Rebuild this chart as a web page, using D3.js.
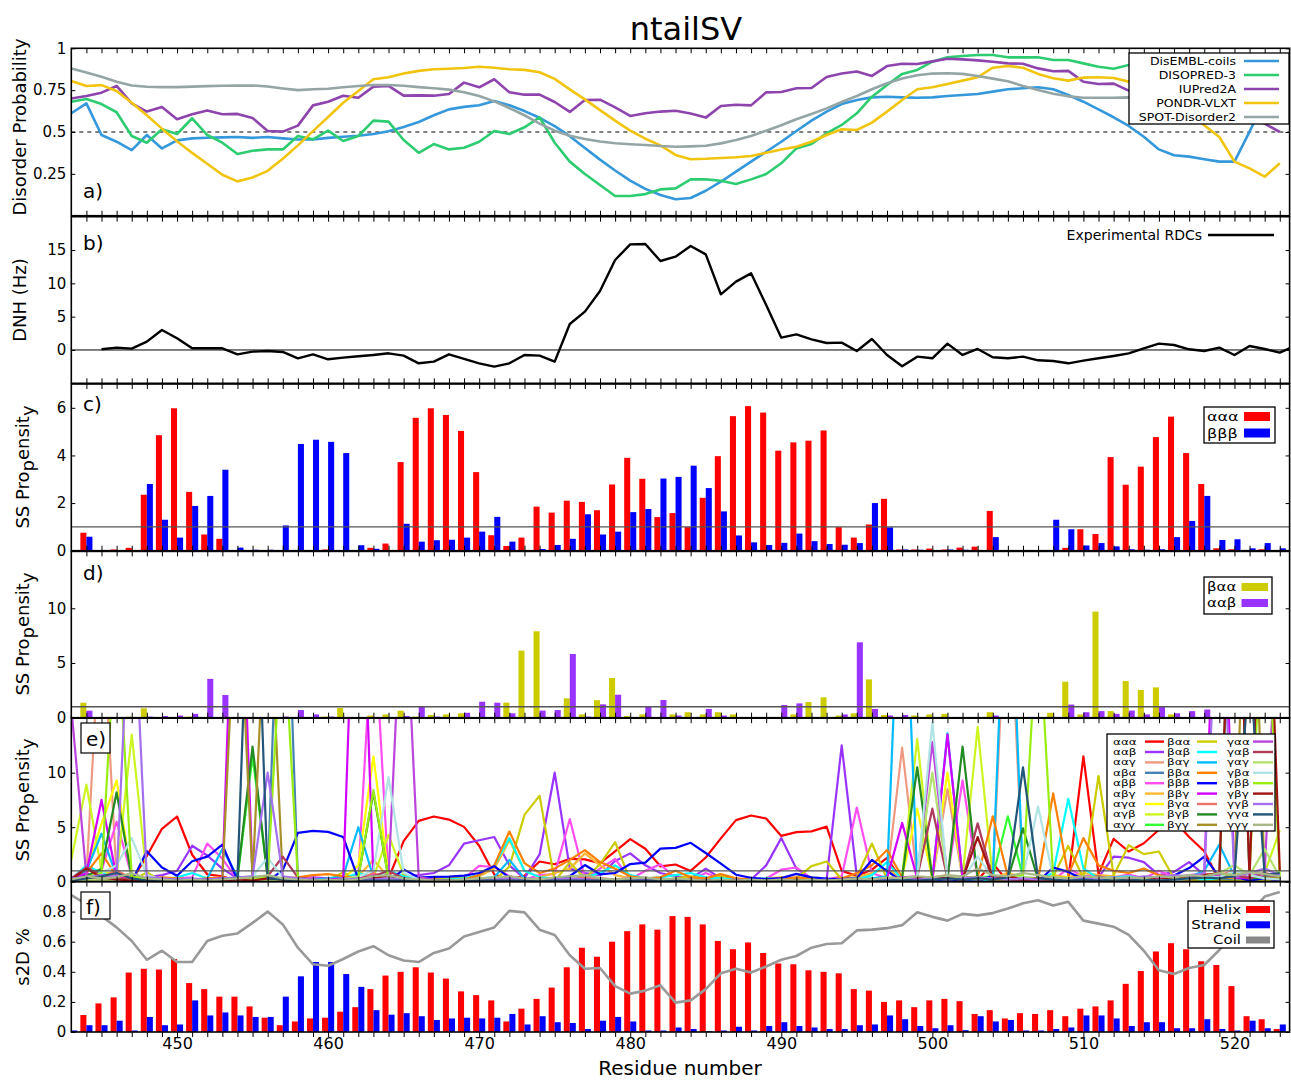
<!DOCTYPE html>
<html><head><meta charset="utf-8">
<script src="https://cdn.jsdelivr.net/npm/d3@7"></script>
<style>body{margin:0;background:#fff}svg{display:block}</style>
</head><body>
<svg id="chart" width="1291" height="1080"></svg>
<script>
// ---------------- DATA ----------------
const residues = [443,444,445,446,447,448,449,450,451,452,
  453,454,455,456,457,458,459,460,461,462,
  463,464,465,466,467,468,469,470,471,472,
  473,474,475,476,477,478,479,480,481,482,
  483,484,485,486,487,488,489,490,491,492,
  493,494,495,496,497,498,499,500,501,502,
  503,504,505,506,507,508,509,510,511,512,
  513,514,515,516,517,518,519,520,521,522,
  523];
const xTickLabels = [450,460,470,480,490,500,510,520];

// a) disorder predictors
const disemblCoils = [0.612,0.671,0.482,0.442,0.392,0.482,0.402,0.45,0.462,0.466,
  0.468,0.47,0.465,0.47,0.462,0.455,0.455,0.465,0.472,0.478,
  0.488,0.505,0.53,0.56,0.6,0.635,0.65,0.66,0.685,0.66,
  0.625,0.585,0.535,0.475,0.405,0.335,0.27,0.21,0.16,0.124,
  0.098,0.106,0.149,0.203,0.263,0.323,0.382,0.442,0.506,0.568,
  0.622,0.667,0.691,0.707,0.711,0.707,0.705,0.707,0.715,0.721,
  0.727,0.741,0.755,0.761,0.767,0.755,0.721,0.681,0.635,0.588,
  0.536,0.472,0.396,0.361,0.353,0.337,0.323,0.323,0.502,0.69,
  0.73];
const disopred3 = [0.681,0.697,0.667,0.618,0.476,0.436,0.516,0.488,0.582,0.482,
  0.436,0.369,0.388,0.396,0.396,0.476,0.456,0.508,0.446,0.476,
  0.568,0.562,0.452,0.376,0.428,0.396,0.406,0.442,0.506,0.488,
  0.528,0.588,0.436,0.323,0.249,0.183,0.118,0.118,0.129,0.157,
  0.163,0.217,0.217,0.209,0.189,0.217,0.249,0.313,0.402,0.428,
  0.492,0.542,0.612,0.711,0.781,0.847,0.871,0.92,0.946,0.954,
  0.96,0.96,0.946,0.946,0.946,0.93,0.93,0.91,0.89,0.878,
  0.9,0.92,0.92,0.9,0.88,0.85,0.82,0.79,0.76,0.73,
  0.7];
const iupred2a = [0.70,0.715,0.735,0.775,0.671,0.622,0.649,0.576,0.606,0.629,
  0.606,0.608,0.584,0.506,0.502,0.538,0.659,0.681,0.717,0.705,
  0.771,0.775,0.717,0.719,0.717,0.727,0.795,0.767,0.815,0.737,
  0.723,0.723,0.679,0.62,0.691,0.693,0.647,0.596,0.612,0.622,
  0.627,0.61,0.586,0.655,0.663,0.659,0.737,0.739,0.761,0.763,
  0.829,0.849,0.861,0.835,0.894,0.908,0.906,0.922,0.938,0.934,
  0.928,0.92,0.91,0.908,0.88,0.863,0.865,0.80,0.787,0.789,
  0.747,0.73,0.70,0.68,0.66,0.64,0.62,0.60,0.58,0.55,
  0.50];
const pondrVlxt = [0.805,0.775,0.78,0.745,0.675,0.60,0.52,0.445,0.375,0.31,
  0.245,0.205,0.228,0.268,0.34,0.42,0.505,0.59,0.675,0.745,
  0.815,0.827,0.85,0.865,0.875,0.878,0.882,0.89,0.884,0.875,
  0.871,0.857,0.817,0.755,0.695,0.631,0.568,0.508,0.46,0.42,
  0.363,0.337,0.34,0.345,0.349,0.357,0.376,0.396,0.412,0.442,
  0.482,0.516,0.512,0.556,0.622,0.691,0.755,0.767,0.787,0.807,
  0.827,0.884,0.894,0.884,0.847,0.821,0.807,0.825,0.827,0.823,
  0.801,0.78,0.74,0.69,0.62,0.54,0.47,0.323,0.283,0.233,
  0.313];
const spotDisorder2 = [0.88,0.855,0.83,0.80,0.778,0.77,0.768,0.768,0.771,0.774,
  0.776,0.777,0.778,0.772,0.76,0.75,0.755,0.758,0.767,0.775,
  0.781,0.781,0.776,0.768,0.761,0.753,0.738,0.715,0.683,0.643,
  0.6,0.55,0.508,0.478,0.458,0.443,0.433,0.427,0.422,0.416,
  0.412,0.414,0.418,0.432,0.452,0.476,0.508,0.54,0.576,0.608,
  0.641,0.679,0.715,0.755,0.791,0.819,0.839,0.849,0.851,0.847,
  0.835,0.819,0.803,0.775,0.751,0.729,0.713,0.705,0.705,0.705,
  0.707,0.70,0.69,0.68,0.67,0.66,0.65,0.64,0.63,0.62,
  0.61];

// b) experimental RDCs
const dnhResidues = [445,446,447,448,449,450,451,452,453,454,
  455,456,457,458,459,460,461,462,463,464,
  465,466,467,468,469,470,471,472,473,474,
  475,476,477,478,479,480,481,482,483,484,
  485,486,487,488,489,490,491,492,493,494,
  495,496,497,498,499,500,501,502,503,504,
  505,506,507,508,509,510,511,512,513,514,
  515,516,517,518,519,520,521,522,523,524];
const dnhValues = [0.1,0.35,0.2,1.25,3.0,1.75,0.25,0.25,0.25,-0.65,
  -0.25,-0.15,-0.3,-1.25,-0.65,-1.4,-1.15,-0.95,-0.75,-0.5,
  -0.85,-2.0,-1.75,-0.65,-1.35,-2.0,-2.5,-2.0,-0.75,-0.85,
  -1.75,3.9,5.75,8.85,13.5,15.85,15.9,13.35,14.0,15.6,
  14.35,8.35,10.25,11.5,6.75,1.85,2.35,1.6,1.05,1.1,
  -0.15,1.65,-0.75,-2.45,-1.0,-1.25,0.95,-0.75,0.15,-1.1,
  -1.25,-1.0,-1.55,-1.65,-2.0,-1.6,-1.25,-0.9,-0.5,0.25,
  0.95,0.75,0.1,-0.15,0.35,-0.75,0.6,0.15,-0.4,0.6];

// c) ααα / βββ propensities
const cAAA = [0,0.755,0.02,0.05,0.12,2.35,4.85,5.98,2.47,0.68,
  0.5,0.02,0.02,0.02,0.02,0.02,0.02,0.05,0.02,0.02,
  0.12,0.3,3.72,5.58,5.98,5.7,5.03,3.3,0.65,0.2,
  0.55,1.85,1.6,2.1,2.05,1.7,2.78,3.9,3.02,1.41,
  1.58,0.99,2.22,3.97,5.65,6.07,5.8,4.2,4.55,4.62,
  5.05,0.99,0.55,1.1,2.18,0.05,0.05,0.09,0.05,0.13,
  0.17,1.67,0.02,0.02,0.02,0.03,0.12,0.9,0.7,3.93,
  2.77,3.53,4.77,5.63,4.1,2.8,0.1,0.06,0.03,0.06,
  0.03];
const cBBB = [0,0.587,0.03,0.02,0.03,2.8,1.3,0.55,1.88,2.3,
  3.4,0.13,0.04,0.04,1.06,4.48,4.66,4.57,4.1,0.23,
  0.08,0.02,1.13,0.38,0.44,0.46,0.55,0.8,1.42,0.38,
  0.02,0.07,0.24,0.5,1.53,0.68,0.8,1.62,1.75,3.03,
  3.1,3.57,2.63,1.65,0.64,0.35,0.24,0.33,0.72,0.4,
  0.28,0.25,0.32,2.0,0.98,0.05,0.04,0.02,0.05,0.04,
  0.02,0.57,0.02,0.02,0.02,1.3,0.9,0.22,0.32,0.18,
  0.06,0.04,0.06,0.57,1.25,2.3,0.45,0.48,0.1,0.32,
  0.1];

// d) βαα / ααβ propensities
const dBAA = [0,1.37,0.02,0.05,0.1,0.85,0.05,0.05,0.1,0.05,
  0.05,0.05,0.05,0.05,0.05,0.05,0.05,0.1,0.88,0.05,
  0.2,0.3,0.64,0.1,0.25,0.3,0.4,0.05,0.05,1.38,
  6.13,7.9,0.05,1.77,0.3,1.6,3.63,0.15,0.3,0.05,
  0.3,0.5,0.3,0.5,0.3,0.05,0.05,0.05,0.3,1.43,
  1.86,0.2,0.4,3.5,0.25,0.05,0.2,0.3,0.35,0.05,
  0.05,0.5,0.05,0.05,0.05,0.45,3.29,0.3,9.7,0.6,
  3.35,2.53,2.77,0.3,0.05,0.05,0.05,0.05,0.05,0.05,
  0.05];
const dAAB = [0,0.64,0.05,0.05,0.05,0.1,0.15,0.2,0.35,3.55,
  2.07,0.05,0.05,0.05,0.1,0.7,0.3,0.1,0.05,0.05,
  0.05,0.05,0.15,1.07,0.1,0.05,0.45,1.46,1.37,0.4,
  0.05,0.65,0.7,5.82,0.1,1.22,2.1,0.05,1.0,1.62,
  0.2,0.05,0.8,0.2,0.05,0.05,0.05,1.16,1.31,0.05,
  0.05,0.3,6.89,0.8,0.2,0.25,0.05,0.05,0.05,0.05,
  0.05,0.2,0.05,0.05,0.05,0.05,1.2,0.5,0.6,0.35,
  0.65,0.3,1.0,0.4,0.6,0.75,0.05,0.05,0.05,0.05,
  0.05];

// e) all 27 triplet propensities
const eAAA = [0,0.755,0.02,0.05,0.12,2.35,4.85,5.98,2.47,0.68,
  0.5,0.02,0.02,0.02,0.02,0.02,0.02,0.05,0.02,0.02,
  0.12,0.3,3.72,5.58,5.98,5.7,5.03,3.3,0.65,0.2,
  0.55,1.85,1.6,2.1,2.05,1.7,2.78,3.9,3.02,1.41,
  1.58,0.99,2.22,3.97,5.65,6.07,5.8,4.2,4.55,4.62,
  5.05,0.99,0.55,1.1,2.18,0.05,0.05,0.09,0.05,0.13,
  0.17,1.67,0.02,0.02,0.02,0.03,0.12,11.5,0.7,3.93,
  2.77,3.53,4.77,5.63,4.1,2.8,0.1,0.06,0.03,0.06,
  0.03];
const eAAB = [0.3,0.8,0.2,0.3,0.2,0.4,0.6,1.0,3.3,2.4,
  1.2,0.3,0.2,0.3,0.2,0.3,0.4,0.3,0.2,0.3,
  0.5,0.3,0.4,0.6,0.8,1.5,3.5,3.8,4.1,1.5,
  0.3,2.5,10.0,1.2,0.8,0.6,1.9,2.6,1.5,0.8,
  0.5,0.3,1.2,0.3,0.2,0.2,1.5,4.0,1.2,0.3,
  0.2,12.5,0.5,0.2,0.3,0.4,0.3,0.2,0.3,0.2,
  0.3,0.2,0.3,0.2,0.3,0.4,0.3,0.5,0.4,2.3,
  2.2,1.8,0.6,0.9,1.8,0.6,0.4,0.3,0.5,0.3,
  0.4];
const eAAG = [0.2,0.5,26,0.4,0.3,0.2,0.1,0.2,0.1,0.1,
  0.2,0.1,0.1,0.2,0.1,0.1,0.1,0.2,0.1,0.2,
  0.1,0.2,0.1,0.1,0.1,0.2,0.1,0.2,0.3,0.5,
  0.2,0.1,0.3,0.2,0.6,0.3,0.2,0.1,0.2,0.1,
  0.1,0.2,0.1,0.1,0.2,0.1,0.1,0.1,0.2,0.1,
  0.1,0.2,0.1,0.3,0.4,12.3,0.3,0.2,8.5,0.3,
  0.2,0.3,30,0.2,0.3,0.2,0.1,0.3,0.2,0.1,
  0.2,0.1,0.2,0.1,0.3,0.2,0.4,0.2,0.1,0.3,
  0.2];
const eABA = [0.1,0.3,0.5,0.8,0.4,0.1,0.1,0.1,0.2,0.1,
  0.1,0.2,0.3,0.2,40,0.2,0.1,0.1,0.1,0.1,
  0.2,0.1,0.1,0.1,0.1,0.1,0.1,0.1,0.2,0.1,
  0.1,0.1,0.1,0.2,0.1,0.1,0.1,0.1,0.1,0.1,
  0.1,0.1,0.1,0.1,0.1,0.1,0.1,0.1,0.1,0.1,
  0.1,0.1,0.1,0.1,0.2,0.1,0.1,0.2,0.1,0.1,
  0.2,0.1,0.1,0.1,0.2,0.1,0.1,0.1,0.1,0.1,
  0.1,0.1,0.1,0.1,0.2,0.1,0.3,0.1,0.2,0.1,
  0.1];
const eABB = [0.2,0.3,1.0,5.5,0.5,0.2,0.2,0.3,0.4,3.5,
  2.1,0.2,0.1,0.2,0.2,0.3,0.3,0.2,0.3,0.6,
  25,0.4,0.2,0.3,0.2,0.2,0.3,1.45,1.35,0.5,
  0.2,0.6,0.7,5.75,0.3,1.2,2.1,0.2,1.0,1.6,
  0.3,0.2,0.8,0.3,0.2,0.2,0.3,1.1,1.3,0.3,
  0.2,0.5,6.8,0.8,0.3,0.2,0.3,0.2,0.4,9.3,
  0.3,0.4,0.2,0.3,0.2,0.2,1.2,0.5,0.6,0.4,
  0.65,0.3,1.0,0.4,0.6,0.75,0.4,0.6,0.3,0.5,
  0.3];
const eABG = [0.1,0.4,0.6,1.0,0.3,0.2,0.1,0.2,0.1,0.2,
  0.1,0.2,0.3,0.2,0.1,0.2,0.1,0.1,0.2,0.5,
  2.0,0.4,0.2,0.1,0.1,0.2,0.3,0.5,1.2,3.8,
  1.0,0.4,0.8,1.2,2.6,1.5,0.6,0.3,0.2,0.3,
  0.2,0.4,0.3,0.2,0.1,0.2,0.3,0.4,0.2,0.3,
  0.2,0.3,0.4,0.8,1.2,0.3,0.2,0.4,0.6,0.3,
  0.5,0.3,0.8,0.4,0.3,0.6,0.4,0.8,0.6,0.5,
  0.4,0.3,0.2,0.4,0.3,0.6,0.4,0.5,0.3,0.4,
  0.3];
const eAGA = [0.3,1.0,5.3,9.3,0.4,0.2,0.1,0.2,0.1,0.1,
  0.2,0.1,0.2,0.3,0.2,0.1,0.1,0.1,0.3,1.5,
  11.5,0.5,0.2,0.1,0.1,0.1,0.1,0.2,0.1,0.3,
  0.2,0.1,0.2,0.3,0.2,0.1,0.2,0.1,0.1,0.1,
  0.1,0.1,0.2,0.1,0.1,0.1,0.1,0.1,0.1,0.1,
  0.1,0.2,0.1,0.3,0.2,0.4,6.7,0.3,10.0,0.4,
  0.3,0.2,0.5,0.3,0.2,0.3,0.4,0.2,0.3,0.2,
  0.3,0.2,0.1,0.2,0.3,0.2,0.5,0.8,0.4,0.3,
  0.2];
const eAGB = [2.0,8.9,1.0,0.5,13.5,0.5,0.2,0.1,0.2,0.1,
  0.1,0.2,0.2,0.3,0.2,0.1,0.1,0.1,0.2,0.3,
  0.4,4.3,0.6,0.2,0.1,0.1,0.2,0.1,0.1,0.2,
  0.1,0.2,0.1,0.1,0.2,0.1,0.1,0.2,0.1,0.1,
  0.1,0.1,0.1,0.2,0.1,0.1,0.1,0.1,0.1,0.1,
  0.1,0.2,0.1,0.2,0.3,0.5,13.1,0.3,0.2,0.4,
  14.2,0.3,0.4,0.2,0.3,0.3,0.2,0.4,0.3,0.2,
  0.3,0.2,0.3,0.4,0.2,0.3,0.5,0.3,0.6,0.8,
  4.7];
const eAGG = [0.1,0.3,0.2,0.4,0.2,0.1,0.1,0.1,0.1,0.1,
  0.2,0.3,11.5,0.5,0.2,0.1,0.1,0.1,0.1,0.1,
  0.2,0.1,0.1,0.1,0.1,0.1,0.1,0.1,0.1,0.1,
  0.1,0.1,0.1,0.1,0.1,0.1,0.1,0.1,0.1,0.1,
  0.1,0.1,0.1,0.1,0.1,0.1,0.1,0.1,0.1,0.1,
  0.1,0.1,0.1,0.1,0.2,0.3,0.2,0.1,0.2,0.3,
  0.4,0.5,6.0,0.4,0.3,0.2,0.1,0.2,0.1,0.1,
  0.1,0.1,0.1,0.2,0.1,0.2,0.3,0.4,0.2,0.3,
  0.2];
const eBAB = [0.2,1.5,0.8,0.3,0.2,0.1,0.2,0.4,0.8,0.3,
  0.2,0.3,0.5,0.4,0.2,0.1,0.1,0.2,0.3,0.8,
  0.4,1.0,0.5,0.2,0.1,0.2,0.3,0.6,1.5,4.0,
  1.0,0.4,0.3,0.2,0.4,0.8,1.5,0.6,0.3,0.4,
  0.6,0.8,0.4,0.3,0.2,0.2,0.3,0.2,0.1,0.2,
  0.2,0.1,0.2,0.6,1.8,0.2,0.1,0.2,0.1,0.2,
  0.1,0.2,0.4,0.3,0.2,0.8,7.6,1.2,0.3,0.4,
  0.5,0.3,0.2,0.4,0.3,0.2,0.3,0.5,0.2,0.3,
  0.2];
const eBAG = [0.3,1.0,4.4,0.5,0.3,0.2,0.1,0.2,0.1,0.3,
  3.0,0.5,0.2,0.1,0.2,0.1,0.2,0.3,0.5,5.0,
  0.4,0.3,0.2,0.1,0.1,0.1,0.2,0.3,0.4,2.0,
  0.3,0.2,0.1,0.2,0.3,0.2,0.1,0.2,0.1,0.2,
  0.1,0.1,0.2,0.1,0.1,0.1,0.1,0.1,0.2,0.1,
  0.1,0.2,0.1,0.3,0.5,35,0.3,0.2,13.6,0.3,
  0.2,0.4,35,0.3,0.2,0.3,0.2,0.3,0.4,0.2,
  0.3,0.2,0.1,0.2,0.4,1.0,3.4,0.5,0.2,0.3,
  0.2];
const eBBA = [0.2,0.8,2.6,0.5,0.3,0.2,0.4,0.3,0.2,0.3,
  0.4,0.2,0.1,0.2,0.3,0.4,0.6,0.7,0.5,0.3,
  0.2,0.3,0.2,0.1,0.2,0.1,0.2,0.6,1.5,4.6,
  1.7,0.8,1.2,2.0,2.9,1.8,1.2,0.5,0.3,0.4,
  1.0,0.4,0.3,0.7,0.3,0.2,0.2,0.3,0.4,0.3,
  0.2,0.3,0.8,1.5,2.9,0.4,0.3,0.2,0.3,0.2,
  0.4,6.0,0.5,0.3,0.2,8.1,0.6,4.0,1.5,1.0,
  0.8,1.2,0.6,0.4,0.3,0.5,0.3,0.4,0.2,0.5,
  0.3];
const eBBG = [0.2,0.8,7.5,0.4,0.2,0.1,0.1,0.2,0.1,0.2,
  0.3,40,0.3,0.2,0.1,0.1,0.1,0.2,0.3,40,
  0.3,0.2,0.1,0.1,0.1,0.1,0.1,0.1,0.2,0.1,
  0.1,0.1,0.1,0.2,0.1,0.1,0.1,0.1,0.1,0.1,
  0.1,0.1,0.1,0.1,0.1,0.1,0.1,0.1,0.1,0.1,
  0.1,0.2,0.1,0.2,0.3,5.4,0.3,0.2,13.5,0.4,
  0.3,0.2,0.1,0.2,0.1,0.2,0.1,0.2,0.1,0.2,
  0.1,0.2,0.1,0.2,0.3,0.5,40,0.4,0.3,0.5,
  0.6];
const eBGA = [0.1,0.3,0.4,1.0,0.3,0.2,0.1,0.1,0.1,0.1,
  0.1,0.2,0.1,0.1,0.2,0.1,0.1,0.1,0.1,0.2,
  0.8,0.2,0.1,0.1,0.1,0.1,0.1,0.1,0.2,0.3,
  0.2,0.3,0.1,0.2,0.4,0.3,0.2,0.1,0.1,0.1,
  0.1,0.1,0.1,0.1,0.1,0.1,0.1,0.1,0.1,0.1,
  0.1,0.1,0.2,0.1,0.2,0.3,0.2,0.4,0.3,0.2,
  0.3,0.2,0.4,0.3,0.2,0.3,0.2,0.3,0.2,0.1,
  0.2,0.1,0.2,0.3,0.2,0.4,0.6,1.0,0.5,0.3,
  0.2];
const eBGB = [0.2,0.5,1.2,8.2,0.4,0.2,0.1,0.1,0.1,0.1,
  0.2,0.4,12.4,0.3,0.2,0.1,0.1,0.1,0.2,0.4,
  8.2,0.3,0.1,0.1,0.1,0.1,0.1,0.1,0.1,0.2,
  0.1,0.1,0.1,0.1,0.1,0.1,0.1,0.1,0.1,0.1,
  0.1,0.1,0.1,0.1,0.1,0.1,0.1,0.1,0.1,0.1,
  0.1,0.1,0.1,0.1,0.2,0.4,10.5,0.3,0.2,12.4,
  0.3,0.2,0.3,4.9,0.2,0.1,0.2,0.1,0.1,0.2,
  0.1,0.2,0.1,0.2,0.3,0.4,0.6,40,0.3,0.4,
  0.3];
const eBGG = [0.1,0.2,0.1,0.2,0.1,0.1,0.1,0.1,0.1,0.1,
  0.2,30,0.3,30,0.2,0.1,0.1,0.1,0.1,0.2,
  0.3,0.1,0.1,0.1,0.1,0.1,0.1,0.1,0.1,0.1,
  0.1,0.1,0.1,0.1,0.1,0.1,0.1,0.1,0.1,0.1,
  0.1,0.1,0.1,0.1,0.1,0.1,0.1,0.1,0.1,0.1,
  0.1,0.1,0.1,0.1,0.1,0.2,0.3,0.2,0.3,0.4,
  0.3,0.2,0.1,0.3,0.2,0.1,0.2,0.1,0.2,0.1,
  0.2,0.1,0.2,0.3,0.2,0.4,0.3,0.5,40,0.4,
  0.3];
const eGAA = [16,0.5,0.3,0.2,0.3,0.2,0.1,0.2,0.1,0.2,
  0.1,0.2,0.3,0.2,0.1,0.2,0.1,0.1,0.2,0.3,
  0.4,0.5,30,0.4,0.2,0.1,0.1,0.2,0.1,0.2,
  0.1,0.2,0.1,0.1,0.2,0.1,0.1,0.2,0.1,0.1,
  0.1,0.1,0.1,0.1,0.1,0.1,0.1,0.1,0.1,0.1,
  0.1,0.2,0.1,0.2,0.3,0.4,0.5,12.8,0.4,0.3,
  0.2,0.3,0.2,0.1,0.2,0.3,0.2,0.1,0.2,0.1,
  0.2,0.3,0.2,0.4,0.3,0.5,0.6,0.4,0.5,0.8,
  30];
const eGAB = [0.3,1.3,0.6,0.3,0.2,0.1,0.1,0.2,0.1,0.2,
  0.1,0.2,0.3,0.5,2.3,0.4,0.2,0.1,0.2,0.3,
  0.5,1.0,0.3,0.2,0.1,0.1,0.1,0.1,0.1,0.2,
  0.1,0.1,0.1,0.2,0.1,0.1,0.1,0.1,0.1,0.1,
  0.1,0.1,0.1,0.1,0.1,0.1,0.1,0.1,0.1,0.1,
  0.1,0.1,0.2,0.1,0.2,0.3,0.4,6.7,0.3,0.2,
  5.35,0.3,0.2,0.1,0.2,0.1,0.2,0.3,0.5,0.2,
  0.3,0.2,0.1,0.2,0.3,0.5,0.4,0.6,0.3,0.8,
  0.5];
const eGAG = [0.1,0.2,0.1,0.2,0.1,0.1,0.1,0.1,0.1,0.1,
  0.1,0.1,0.2,0.1,0.2,0.1,0.1,0.1,0.1,0.1,
  0.1,0.2,0.1,0.1,0.1,0.1,0.1,0.1,0.1,0.1,
  0.1,0.1,0.1,0.1,0.1,0.1,0.1,0.1,0.1,0.1,
  0.1,0.1,0.1,0.1,0.1,0.1,0.1,0.1,0.1,0.1,
  0.1,0.1,0.1,0.1,0.2,0.3,0.5,10.0,0.4,0.3,
  0.2,0.3,0.2,0.4,0.3,0.2,0.3,0.2,0.1,0.2,
  0.1,0.2,0.3,0.2,0.4,0.5,0.8,1.5,0.6,3.0,
  0.4];
const eGBA = [0.1,0.4,0.8,1.5,4.0,0.6,0.2,0.1,0.2,0.1,
  0.2,0.3,0.5,2.2,0.4,0.2,0.1,0.1,0.2,0.5,
  1.0,9.6,0.8,0.2,0.1,0.1,0.1,0.1,0.2,0.1,
  0.1,0.2,0.1,0.1,0.1,0.1,0.1,0.2,0.1,0.1,
  0.1,0.1,0.1,0.1,0.1,0.1,0.1,0.1,0.1,0.1,
  0.1,0.1,0.2,0.1,0.2,0.3,0.4,14.6,0.3,0.2,
  2.3,0.4,0.3,0.5,6.9,0.4,0.2,0.3,0.2,0.1,
  0.2,0.3,0.2,0.1,0.3,0.5,0.4,1.0,0.6,0.3,
  0.2];
const eGBB = [0.2,0.4,0.8,25,0.5,0.2,0.1,0.1,0.1,0.1,
  0.1,0.2,0.3,0.4,25,0.3,0.1,0.1,0.2,0.4,
  8.4,0.3,0.1,0.1,0.1,0.1,0.1,0.1,0.1,0.1,
  0.1,0.1,0.1,0.1,0.1,0.1,0.1,0.1,0.1,0.1,
  0.1,0.1,0.1,0.1,0.1,0.1,0.1,0.1,0.1,0.1,
  0.1,0.1,0.1,0.1,0.2,0.3,0.2,0.3,0.2,0.3,
  0.4,0.3,0.5,0.6,25,0.4,0.3,0.2,0.1,0.2,
  0.3,0.2,0.4,0.3,0.5,0.6,0.8,0.5,0.9,30,
  0.5];
const eGBG = [0.2,1.2,0.4,0.2,0.1,0.1,0.1,0.1,0.1,0.1,
  0.1,0.2,0.1,0.3,0.2,0.1,0.1,0.1,0.1,0.2,
  0.3,0.6,0.2,0.1,0.1,0.1,0.1,0.1,0.1,0.1,
  0.1,0.1,0.1,0.1,0.1,0.1,0.1,0.1,0.1,0.1,
  0.1,0.1,0.1,0.1,0.1,0.1,0.1,0.1,0.1,0.1,
  0.1,0.1,0.1,0.2,0.1,0.2,0.3,0.4,0.3,0.2,
  4.1,0.3,0.5,0.2,0.3,0.2,0.1,0.2,0.1,0.2,
  0.3,0.2,0.3,0.4,0.5,0.6,0.8,40,0.4,40,
  1.0];
const eGGB = [0.3,0.4,0.6,0.5,30,0.4,0.3,0.2,0.3,0.2,
  0.3,0.4,0.5,10.0,0.5,0.3,0.2,0.1,0.2,0.3,
  0.2,0.3,0.2,0.1,0.1,0.1,0.2,0.1,0.2,0.3,
  0.2,0.1,0.2,0.3,0.2,0.1,0.2,0.3,0.2,0.1,
  0.1,0.2,0.1,0.1,0.2,0.1,0.1,0.2,0.1,0.1,
  0.2,0.1,0.2,0.1,0.2,0.3,0.2,0.3,0.2,0.3,
  0.4,0.3,0.2,0.3,0.2,0.3,0.2,0.3,0.2,0.4,
  0.3,0.5,0.4,0.6,0.5,0.8,30,0.5,0.8,1.2,
  0.6];
const eGGA = [0.1,0.3,0.5,0.8,0.3,0.1,0.1,0.1,0.1,0.1,
  0.2,0.3,40,0.3,0.2,0.1,0.1,0.1,0.1,0.1,
  0.1,0.1,0.1,0.1,0.1,0.1,0.1,0.1,0.1,0.1,
  0.1,0.1,0.1,0.1,0.1,0.1,0.1,0.1,0.1,0.1,
  0.1,0.1,0.1,0.1,0.1,0.1,0.1,0.1,0.1,0.1,
  0.1,0.1,0.1,0.1,0.1,0.2,0.1,0.2,0.3,0.2,
  0.3,0.2,0.4,10.5,0.3,0.2,0.1,0.2,0.1,0.2,
  0.1,0.2,0.1,0.2,0.3,0.4,0.3,0.5,20,0.6,
  0.8];
const eGGG = [0.2,0.5,0.3,0.4,0.8,0.3,0.2,0.1,0.2,0.1,
  0.2,0.3,0.4,0.6,0.3,0.2,0.1,0.2,0.1,0.2,
  0.5,0.6,0.3,0.2,0.1,0.1,0.2,0.3,0.4,0.5,
  0.3,0.2,0.4,0.5,0.6,0.3,0.2,0.3,0.4,0.2,
  0.3,0.2,0.1,0.2,0.1,0.2,0.1,0.2,0.1,0.2,
  0.1,0.2,0.3,0.2,0.4,0.3,0.5,0.4,0.6,0.5,
  1.2,0.6,0.5,0.8,0.6,0.4,0.3,0.5,0.4,0.3,
  0.4,0.3,0.5,0.4,0.6,0.5,0.8,0.6,0.9,0.7,
  0.5];

// f) s2D populations
const helix = [0,0.113,0.19,0.23,0.395,0.42,0.415,0.485,0.325,0.285,
  0.235,0.235,0.17,0.095,0.045,0.07,0.09,0.095,0.135,0.165,
  0.285,0.375,0.4,0.43,0.395,0.355,0.27,0.245,0.21,0.07,
  0.155,0.22,0.295,0.43,0.56,0.5,0.6,0.67,0.715,0.68,
  0.77,0.765,0.715,0.605,0.55,0.595,0.525,0.455,0.45,0.41,
  0.4,0.39,0.285,0.275,0.2,0.21,0.165,0.21,0.22,0.205,
  0.12,0.145,0.09,0.125,0.12,0.145,0.105,0.155,0.17,0.21,
  0.32,0.405,0.535,0.59,0.55,0.47,0.445,0.305,0.105,0.085,
  0.02];
const strand = [0.01,0.045,0.045,0.075,0.01,0.1,0.045,0.05,0.21,0.11,
  0.13,0.11,0.1,0.1,0.235,0.37,0.465,0.465,0.385,0.3,
  0.145,0.115,0.125,0.105,0.08,0.09,0.095,0.09,0.095,0.12,
  0.05,0.105,0.065,0.06,0.02,0.075,0.1,0.07,0.01,0.01,
  0.03,0.02,0.005,0.01,0.035,0.01,0.04,0.065,0.04,0.03,
  0.02,0.02,0.045,0.05,0.11,0.085,0.04,0.025,0.045,0.012,
  0.105,0.07,0.08,0.01,0.01,0.02,0.03,0.11,0.11,0.09,
  0.04,0.065,0.065,0.025,0.025,0.085,0.02,0.01,0.075,0.025,
  0.05];
const coil = [0.91,0.85,0.77,0.695,0.605,0.48,0.54,0.465,0.465,0.605,
  0.64,0.655,0.725,0.8,0.715,0.56,0.45,0.44,0.485,0.535,
  0.57,0.51,0.475,0.465,0.525,0.555,0.635,0.665,0.695,0.805,
  0.795,0.68,0.645,0.51,0.42,0.425,0.305,0.255,0.275,0.31,
  0.195,0.21,0.285,0.39,0.42,0.395,0.435,0.48,0.505,0.56,
  0.585,0.59,0.675,0.68,0.69,0.71,0.795,0.765,0.74,0.785,
  0.775,0.79,0.82,0.855,0.875,0.84,0.865,0.74,0.72,0.70,
  0.645,0.54,0.41,0.385,0.425,0.445,0.545,0.655,0.79,0.9,
  0.93];

// ---------------- STYLE ----------------
const FONT = "DejaVu Sans, sans-serif";
const X0 = 71.3, X1 = 1289.6;
const svg = d3.select("#chart");
const x = d3.scaleLinear().domain([443, 523.65]).range([X0, X1]);
const minorTicks = residues.slice(1);
const defs = svg.append("defs");
let clipN = 0;

function makePanel(top, bottom, domain) {
  const y = d3.scaleLinear().domain(domain).range([bottom, top]);
  const id = "clip" + (clipN++);
  defs.append("clipPath").attr("id", id).append("rect")
    .attr("x", X0).attr("y", top).attr("width", X1 - X0).attr("height", bottom - top);
  const g = svg.append("g");
  const plot = g.append("g").attr("clip-path", `url(#${id})`);
  return {y, g, plot, top, bottom};
}
function finishPanel(p, yTicks, fmt, bottomOut) {
  const g = p.g;
  g.append("g").attr("transform", `translate(0,${p.top})`)
    .call(d3.axisTop(x).tickValues(minorTicks).tickSize(-5).tickFormat(""))
    .call(a => a.select(".domain").remove());
  if (!bottomOut) {
    g.append("g").attr("transform", `translate(0,${p.bottom})`)
      .call(d3.axisBottom(x).tickValues(minorTicks).tickSize(-5).tickFormat(""))
      .call(a => a.select(".domain").remove());
  } else {
    g.append("g").attr("transform", `translate(0,${p.bottom})`)
      .call(d3.axisBottom(x).tickValues(minorTicks).tickSize(5).tickPadding(1)
        .tickFormat(d => xTickLabels.includes(d) ? d : ""))
      .attr("font-size", 16).attr("font-family", FONT)
      .call(a => a.select(".domain").remove());
  }
  g.append("g").attr("transform", `translate(${X0},0)`)
    .call(d3.axisLeft(p.y).tickValues(yTicks).tickSize(-4).tickPadding(5).tickFormat(fmt))
    .attr("font-size", 15).attr("font-family", FONT)
    .call(a => a.select(".domain").remove());
  g.append("g").attr("transform", `translate(${X1},0)`)
    .call(d3.axisRight(p.y).tickValues(yTicks).tickSize(-4).tickFormat(""))
    .call(a => a.select(".domain").remove());
  g.append("rect").attr("x", X0).attr("y", p.top).attr("width", X1 - X0)
    .attr("height", p.bottom - p.top).attr("fill", "none").attr("stroke", "#000").attr("stroke-width", 1.6);
}
function drawLine(p, xs, vals, color, width) {
  p.plot.append("path").datum(vals)
    .attr("d", d3.line().x((d, i) => x(xs[i])).y(d => p.y(d)))
    .attr("fill", "none").attr("stroke", color).attr("stroke-width", width)
    .attr("stroke-linejoin", "round");
}
function drawBars(p, vals, color, offset) {
  p.plot.append("g").selectAll("rect").data(vals).join("rect")
    .attr("x", (d, i) => x(residues[i] + offset))
    .attr("width", x(443.4) - x(443))
    .attr("y", d => p.y(d)).attr("height", d => p.y(0) - p.y(d))
    .attr("fill", color);
}
function hline(p, v, color, width, dash) {
  p.plot.append("line").attr("x1", X0).attr("x2", X1).attr("y1", p.y(v)).attr("y2", p.y(v))
    .attr("stroke", color).attr("stroke-width", width).attr("stroke-dasharray", dash || null);
}
function yTitle(xb, yc, parts) {
  const t = svg.append("text").attr("transform", `translate(${xb},${yc}) rotate(-90)`)
    .attr("text-anchor", "middle").attr("font-size", 18).attr("font-family", FONT);
  let shift = 0;
  parts.forEach(([s, sub]) => {
    const dy = (sub ? 5 : 0) - shift; shift = sub ? 5 : 0;
    t.append("tspan").attr("dy", dy).text(s);
  });
}
function panelLabel(txt, xx, yb, box) {
  if (box) svg.append("rect").attr("x", box[0]).attr("y", box[1]).attr("width", box[2]).attr("height", box[3])
    .attr("fill", "#fff").attr("stroke", "#000").attr("stroke-width", 1.2);
  svg.append("text").attr("x", xx).attr("y", yb).attr("font-size", 20).attr("font-family", FONT).text(txt);
}
// legend text, vertically condensed a little so that tightly packed rows do not collide
function legendText(g, xx, yy, txt, fs, anchor, sy) {
  g.append("text").attr("transform", `translate(${xx},${yy}) scale(1,${sy})`)
    .attr("dy", "0.35em").attr("text-anchor", anchor)
    .attr("font-size", fs).attr("font-family", FONT).text(txt);
}

// ---------------- TITLE ----------------
svg.append("text").attr("x", 686).attr("y", 40).attr("text-anchor", "middle")
  .attr("font-size", 32).attr("font-family", FONT).text("ntailSV");

// ---------------- PANEL a ----------------
const pa = makePanel(48.3, 215.7, [0, 1]);
hline(pa, 0.5, "#000", 1.2, "4,4");
const aSeries = [
  {name: "DisEMBL-coils", vals: disemblCoils, color: "#3498db"},
  {name: "DISOPRED-3", vals: disopred3, color: "#2ecc71"},
  {name: "IUPred2A", vals: iupred2a, color: "#8e44ad"},
  {name: "PONDR-VLXT", vals: pondrVlxt, color: "#f1c40f"},
  {name: "SPOT-Disorder2", vals: spotDisorder2, color: "#95a5a6"}
];
aSeries.forEach(s => drawLine(pa, residues, s.vals, s.color, 2.6));
finishPanel(pa, [0.25, 0.5, 0.75, 1], d => d === 1 ? "1" : String(d));
{
  const lg = svg.append("g");
  lg.append("rect").attr("x", 1129).attr("y", 53).attr("width", 160).attr("height", 71)
    .attr("fill", "#fff").attr("stroke", "#000").attr("stroke-width", 1.3);
  aSeries.forEach((s, i) => {
    const yy = 61 + i * 14;
    legendText(lg, 1236, yy, s.name, 12.5, "end", 0.85);
    lg.append("line").attr("x1", 1244).attr("x2", 1279).attr("y1", yy).attr("y2", yy)
      .attr("stroke", s.color).attr("stroke-width", 2.6);
  });
}
panelLabel("a)", 83, 198);
yTitle(26, 127, [["Disorder Probability", false]]);

// ---------------- PANEL b ----------------
const pb = makePanel(216.7, 383.3, [-5, 20]);
hline(pb, 0, "#000", 1);
drawLine(pb, dnhResidues, dnhValues, "#000", 2.4);
finishPanel(pb, [0, 5, 10, 15], d => String(d));
svg.append("text").attr("x", 1202).attr("y", 235).attr("dy", "0.35em").attr("text-anchor", "end")
  .attr("font-size", 14).attr("font-family", FONT).text("Experimental RDCs");
svg.append("line").attr("x1", 1208).attr("x2", 1274).attr("y1", 235).attr("y2", 235)
  .attr("stroke", "#000").attr("stroke-width", 2.6);
panelLabel("b)", 83, 250);
yTitle(26, 300, [["DNH (Hz)", false]]);

// ---------------- PANEL c ----------------
const pc = makePanel(384, 550.7, [0, 7]);
drawBars(pc, cAAA, "#ff0000", -0.4);
drawBars(pc, cBBB, "#0000ff", 0);
hline(pc, 1, "#555", 1.3);
finishPanel(pc, [0, 2, 4, 6], d => String(d));
function patchLegend(box, rows, textX, patchX, patchW, patchH, fs, anchor, sy) {
  const lg = svg.append("g");
  lg.append("rect").attr("x", box[0]).attr("y", box[1]).attr("width", box[2]).attr("height", box[3])
    .attr("fill", "#fff").attr("stroke", "#000").attr("stroke-width", 1.3);
  rows.forEach(r => {
    legendText(lg, textX, r.y, r.name, fs, anchor, sy);
    lg.append("rect").attr("x", patchX).attr("y", r.y - patchH / 2).attr("width", patchW).attr("height", patchH)
      .attr("fill", r.color);
  });
}
patchLegend([1204, 407, 71, 36], [{name: "ααα", y: 416.5, color: "#ff0000"}, {name: "βββ", y: 433, color: "#0000ff"}],
  1207, 1244, 26, 9, 16, "start", 0.82);
panelLabel("c)", 83, 411);
yTitle(29, 467, [["SS Pro", false], ["p", true], ["ensit", false], ["y", true]]);

// ---------------- PANEL d ----------------
const pd = makePanel(551.4, 717.7, [0, 15.2]);
drawBars(pd, dBAA, "#cccc00", -0.4);
drawBars(pd, dAAB, "#9933ff", 0);
hline(pd, 1, "#555", 1.3);
finishPanel(pd, [0, 5, 10], d => String(d));
patchLegend([1204, 577, 68, 37], [{name: "βαα", y: 587, color: "#cccc00"}, {name: "ααβ", y: 603, color: "#9933ff"}],
  1207, 1241.5, 26.5, 8, 15, "start", 0.85);
panelLabel("d)", 83, 580);
yTitle(29, 634, [["SS Pro", false], ["p", true], ["ensit", false], ["y", true]]);

// ---------------- PANEL e ----------------
const pe = makePanel(718.2, 881.7, [0, 15]);
const eSeries = [
  {name: "ααα", vals: eAAA, color: "#ff0000"},
  {name: "ααβ", vals: eAAB, color: "#9933ff"},
  {name: "ααγ", vals: eAAG, color: "#ee9a80"},
  {name: "αβα", vals: eABA, color: "#4682b4"},
  {name: "αββ", vals: eABB, color: "#ff4ef0"},
  {name: "αβγ", vals: eABG, color: "#ffb833"},
  {name: "αγα", vals: eAGA, color: "#ffff00"},
  {name: "αγβ", vals: eAGB, color: "#ccf522"},
  {name: "αγγ", vals: eAGG, color: "#33ff33"},
  {name: "βαα", vals: dBAA, color: "#cccc00"},
  {name: "βαβ", vals: eBAB, color: "#00ffff"},
  {name: "βαγ", vals: eBAG, color: "#00bbff"},
  {name: "ββα", vals: eBBA, color: "#ff8000"},
  {name: "βββ", vals: cBBB, color: "#0000ff"},
  {name: "ββγ", vals: eBBG, color: "#d400ff"},
  {name: "βγα", vals: eBGA, color: "#f07070"},
  {name: "βγβ", vals: eBGB, color: "#228b22"},
  {name: "βγγ", vals: eBGG, color: "#a89028"},
  {name: "γαα", vals: eGAA, color: "#bb44dd"},
  {name: "γαβ", vals: eGAB, color: "#b03a5a"},
  {name: "γαγ", vals: eGAG, color: "#b4e070"},
  {name: "γβα", vals: eGBA, color: "#b0e4e4"},
  {name: "γββ", vals: eGBB, color: "#99ee11"},
  {name: "γβγ", vals: eGBG, color: "#a01414"},
  {name: "γγβ", vals: eGGB, color: "#a470ee"},
  {name: "γγα", vals: eGGA, color: "#225577"},
  {name: "γγγ", vals: eGGG, color: "#a8b888"}
];
eSeries.forEach(s => drawLine(pe, residues, s.vals, s.color, 2.2));
hline(pe, 1, "#555", 1.3);
finishPanel(pe, [0, 5, 10], d => String(d));
{
  const lg = svg.append("g");
  lg.append("rect").attr("x", 1107).attr("y", 734).attr("width", 168).attr("height", 97)
    .attr("fill", "#fff").attr("stroke", "#000").attr("stroke-width", 1.3);
  const tx = [1113, 1167, 1227], lx = [[1145, 1164], [1197, 1217], [1253, 1273]];
  eSeries.forEach((s, k) => {
    const col = Math.floor(k / 9), row = k % 9, yy = 741.6 + row * 10.4;
    legendText(lg, tx[col], yy, s.name, 12, "start", 0.7);
    lg.append("line").attr("x1", lx[col][0]).attr("x2", lx[col][1]).attr("y1", yy).attr("y2", yy)
      .attr("stroke", s.color).attr("stroke-width", 2.4);
  });
}
panelLabel("e)", 86, 746, [81, 723, 29, 30]);
yTitle(29, 800, [["SS Pro", false], ["p", true], ["ensit", false], ["y", true]]);

// ---------------- PANEL f ----------------
const pf = makePanel(881.5, 1032, [0, 1]);
drawBars(pf, helix, "#ff0000", -0.4);
drawBars(pf, strand, "#0000ff", 0);
drawLine(pf, residues, coil, "#999999", 2.6);
finishPanel(pf, [0, 0.2, 0.4, 0.6, 0.8], d => String(d), true);
patchLegend([1188, 901, 86, 47],
  [{name: "Helix", y: 909.5, color: "#ff0000"}, {name: "Strand", y: 924.8, color: "#0000ff"}, {name: "Coil", y: 940, color: "#888888"}],
  1241, 1246, 24, 7, 15, "end", 0.84);
panelLabel("f)", 86, 914, [81, 892, 29, 27]);
yTitle(29, 957, [["s2D %", false]]);

svg.append("text").attr("x", 680).attr("y", 1075).attr("text-anchor", "middle")
  .attr("font-size", 20).attr("font-family", FONT).text("Residue number");
</script>
</body></html>
